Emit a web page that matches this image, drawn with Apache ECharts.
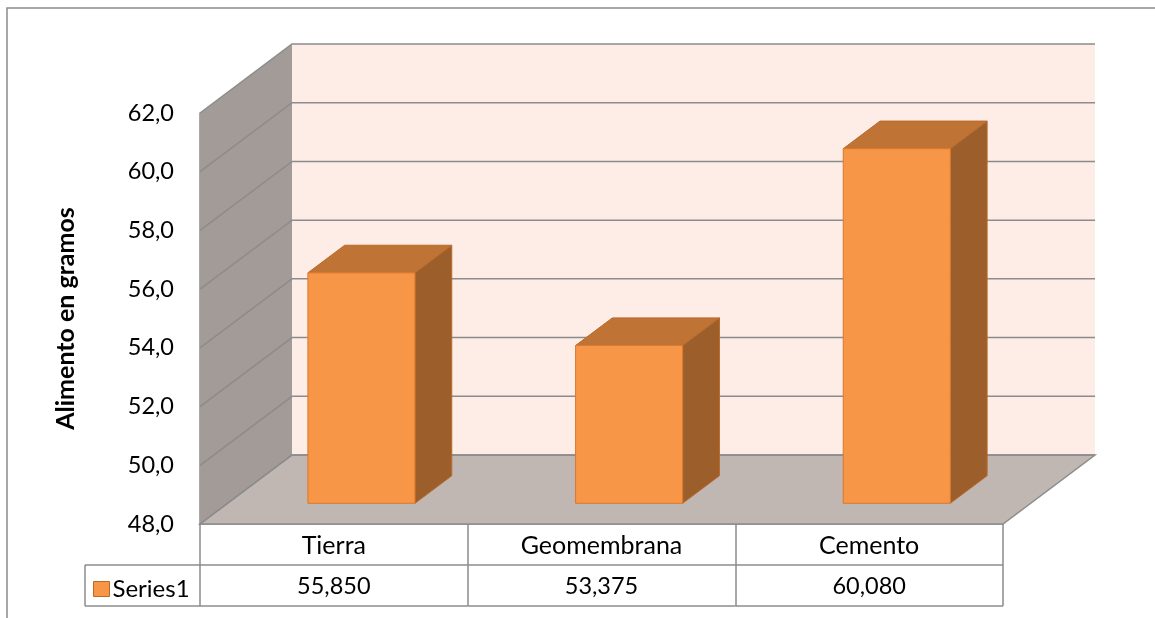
<!DOCTYPE html>
<html>
<head>
<meta charset="utf-8">
<title>Alimento en gramos</title>
<script src="https://cdn.jsdelivr.net/npm/echarts@6/dist/echarts.min.js"></script>
<style>
    html, body { margin: 0; padding: 0; background: #fff; }
    #chart { width: 1155px; height: 618px; }
</style>
</head>
<body>
<div id="chart"></div>
<script>
let categorias = ['Tierra', 'Geomembrana', 'Cemento'];
let valores = [55.850, 53.375, 60.080];
let ticksY = [48, 50, 52, 54, 56, 58, 60, 62];
let nombreSerie = 'Series1';

// desplazamiento de la pared del fondo respecto al plano frontal (px)
let DX = 92, DY = -69;
let lineaGris = '#8c8c8c';
let fuente = 'Lato';

function coma(v, d) {
    return v.toFixed(d).replace('.', ',');
}

let myChart = echarts.init(document.getElementById('chart'));

// paredes, suelo y lineas de division
function dibujarParedes(params, api) {
    let cs = params.coordSys;
    let x0 = cs.x, x1 = cs.x + cs.width, y0 = cs.y, y1 = cs.y + cs.height;
    let hijos = [
        {type: 'rect', shape: {x: x0 + DX, y: y0 + DY, width: cs.width, height: cs.height}, style: {fill: '#fdede6'}},
        {type: 'polygon', shape: {points: [[x0, y0], [x0 + DX, y0 + DY], [x0 + DX, y1 + DY], [x0, y1]]}, style: {fill: '#a39b97'}},
        {type: 'polygon', shape: {points: [[x0, y1], [x0 + DX, y1 + DY], [x1 + DX, y1 + DY], [x1, y1]]}, style: {fill: '#c0b6b2', stroke: lineaGris, lineWidth: 1.5}}
    ];
    ticksY.forEach(function (t) {
        let y = api.coord([0, t])[1];
        hijos.push({
            type: 'polyline',
            shape: {points: [[x0, y], [x0 + DX, y + DY], [x1 + DX, y + DY]]},
            style: {stroke: lineaGris, lineWidth: 1.5, fill: null}
        });
    });
    return {type: 'group', children: hijos};
}

// barra 3D: cara frontal, superior y lateral
function dibujarBarra(params, api) {
    let i = api.value(0);
    let tope = api.coord([i, api.value(1)]);
    let base = api.coord([i, ticksY[0]]);
    let w = api.size([1, 0])[0] * 0.4;
    let f = 0.3, p = 0.4;
    let xl = tope[0] - w / 2 + f * DX, xr = xl + w;
    let yt = tope[1] + f * DY, yb = base[1] + f * DY;
    let ddx = p * DX, ddy = p * DY;
    return {
        type: 'group',
        children: [
            {type: 'polygon', shape: {points: [[xr, yt], [xr + ddx, yt + ddy], [xr + ddx, yb + ddy], [xr, yb]]}, style: {fill: '#9c5f2b', stroke: '#b8692a', lineWidth: 1}},
            {type: 'polygon', shape: {points: [[xl, yt], [xl + ddx, yt + ddy], [xr + ddx, yt + ddy], [xr, yt]]}, style: {fill: '#bf7334', stroke: '#b8692a', lineWidth: 1}},
            {type: 'rect', shape: {x: xl, y: yt, width: w, height: yb - yt}, style: {fill: api.visual('color'), stroke: '#d9782f', lineWidth: 1}}
        ]
    };
}

// tabla de datos bajo el eje
function dibujarTabla(params, api) {
    let cs = params.coordSys;
    let i = api.value(0);
    let cx = api.coord([i, ticksY[0]])[0];
    let ancho = api.size([1, 0])[0];
    let y1 = cs.y + cs.height, yMid = y1 + 41, yFin = y1 + 82;
    let estilo = {stroke: lineaGris, lineWidth: 1.5};
    let hijos = [
        {type: 'line', shape: {x1: cx - ancho / 2, y1: yMid, x2: cx + ancho / 2, y2: yMid}, style: estilo},
        {type: 'line', shape: {x1: cx - ancho / 2, y1: yFin, x2: cx + ancho / 2, y2: yFin}, style: estilo},
        {type: 'text', x: cx, y: (yMid + yFin) / 2 + 1, style: {
            text: coma(api.value(1), 3), fontSize: 23.5, fontFamily: fuente, fill: '#000',
            align: 'center', verticalAlign: 'middle'
        }}
    ];
    if (i === 0) {
        let xl = cs.x - 115;
        hijos.push({type: 'line', shape: {x1: xl, y1: yMid, x2: cs.x, y2: yMid}, style: estilo});
        hijos.push({type: 'line', shape: {x1: xl, y1: yFin, x2: cs.x, y2: yFin}, style: estilo});
        hijos.push({type: 'line', shape: {x1: xl, y1: yMid, x2: xl, y2: yFin}, style: estilo});
    }
    return {type: 'group', children: hijos};
}

let option = {
    animation: false,
    graphic: [{
        type: 'polyline',
        shape: {points: [[7, 618], [7, 8], [1155, 8]]},
        style: {stroke: lineaGris, lineWidth: 1.5, fill: null}
    }],
    grid: {left: 200, right: 152, top: 113, bottom: 94},
    legend: {
        data: [{name: nombreSerie, icon: 'rect'}],
        left: 88, top: 572,
        itemWidth: 16, itemHeight: 15, itemGap: 5,
        itemStyle: {borderColor: '#b86a2a', borderWidth: 1},
        textStyle: {fontSize: 24, fontFamily: fuente, color: '#000', padding: [0, 0, 0, -2]}
    },
    xAxis: {
        type: 'category',
        data: categorias,
        boundaryGap: true,
        axisLine: {lineStyle: {color: lineaGris, width: 1.5}},
        axisTick: {show: true, length: 82, lineStyle: {color: lineaGris, width: 1.5}},
        axisLabel: {margin: 9, fontSize: 25, fontFamily: fuente, color: '#000'}
    },
    yAxis: {
        type: 'value',
        min: ticksY[0],
        max: ticksY[ticksY.length - 1],
        interval: 2,
        name: 'Alimento en gramos',
        nameLocation: 'middle',
        nameRotate: 90,
        nameGap: 122,
        nameTextStyle: {fontSize: 25, fontWeight: 'bold', fontFamily: fuente, color: '#000'},
        axisLine: {show: true, lineStyle: {color: lineaGris, width: 1.5}},
        axisTick: {show: false},
        splitLine: {show: false},
        axisLabel: {
            margin: 26, fontSize: 23.5, fontFamily: fuente, color: '#000',
            formatter: function (v) { return coma(v, 1); }
        }
    },
    series: [
        {
            name: 'paredes',
            type: 'custom',
            z: 1,
            silent: true,
            renderItem: dibujarParedes,
            data: [[0, ticksY[0]]]
        },
        {
            name: nombreSerie,
            type: 'custom',
            z: 3,
            itemStyle: {color: '#f79646'},
            renderItem: dibujarBarra,
            encode: {x: 0, y: 1},
            data: valores.map(function (v, i) { return [i, v]; })
        },
        {
            name: 'tabla',
            type: 'custom',
            z: 2,
            silent: true,
            renderItem: dibujarTabla,
            data: valores.map(function (v, i) { return [i, v]; })
        }
    ]
};

myChart.setOption(option);
</script>
</body>
</html>
